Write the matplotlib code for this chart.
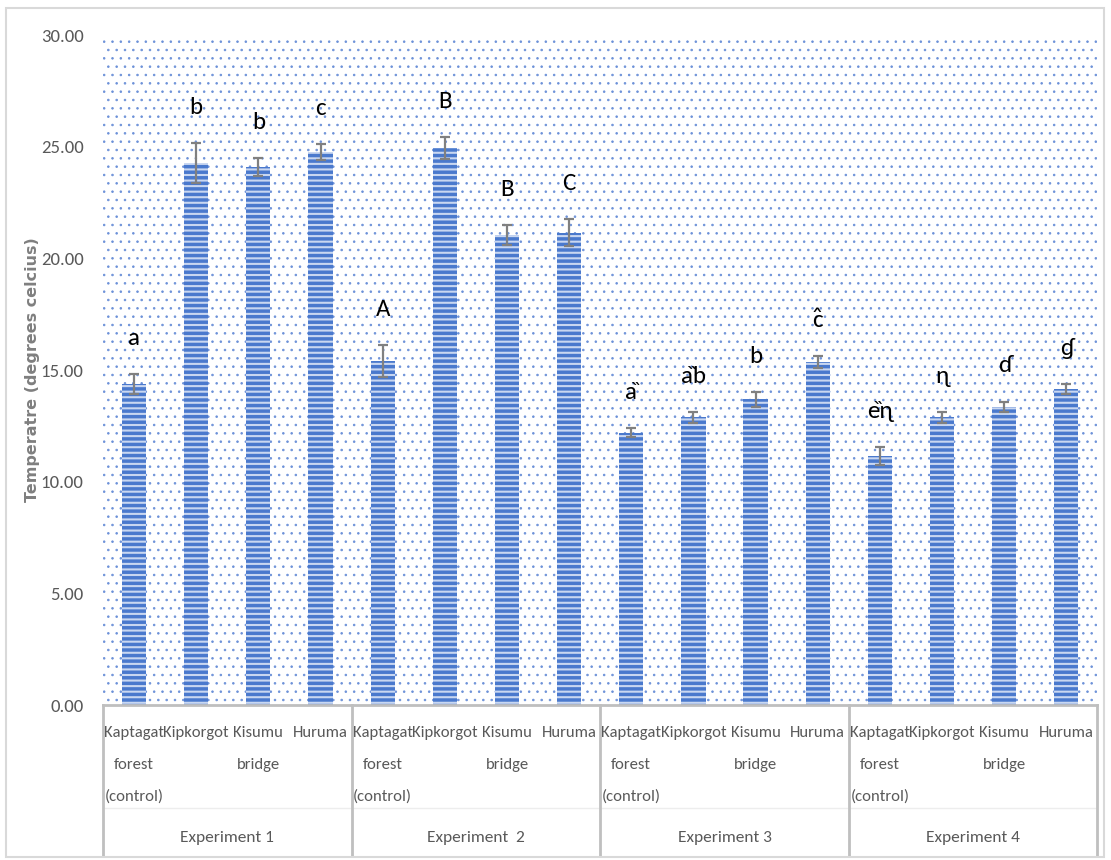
import numpy as np
import matplotlib.pyplot as plt
from matplotlib.patches import Rectangle

label_font = ['Carlito', 'DejaVu Sans']

sites = ["Kaptagat\nforest\n(control)", "Kipkorgot", "Kisumu\nbridge", "Huruma"]
experiments = ["Experiment 1", "Experiment  2", "Experiment 3", "Experiment 4"]

# mean temperature per site, one list per experiment
exp1 = [14.37, 24.27, 24.09, 24.76]
exp2 = [15.40, 24.94, 21.05, 21.14]
exp3 = [12.19, 12.88, 13.69, 15.36]
exp4 = [11.15, 12.88, 13.36, 14.15]

err1 = [0.45, 0.90, 0.40, 0.35]
err2 = [0.70, 0.50, 0.45, 0.60]
err3 = [0.21, 0.25, 0.33, 0.26]
err4 = [0.39, 0.24, 0.22, 0.22]

letters1 = ["a", "b", "b", "c"]
letters2 = ["A", "B", "B", "C"]
letters3 = ["a\u030f", "a\u030fb", "b", "c\u0302"]
letters4 = ["e\u030f\u0273", "\u0273", "\u0257", "\u0260"]

values = np.array(exp1 + exp2 + exp3 + exp4)
errors = np.array(err1 + err2 + err3 + err4)
letters = letters1 + letters2 + letters3 + letters4
x = np.arange(len(values))

fig = plt.figure(figsize=(11.11, 8.6), dpi=100)
ax = fig.add_axes([0.0927, 0.1802, 0.8951, 0.7791])

# dotted plot-area background
with plt.rc_context({'hatch.linewidth': 0.6}):
    bg = Rectangle((0, 0), 1, 1, transform=ax.transAxes, fill=False,
                   hatch='..', edgecolor='#6C91D8', linewidth=0, zorder=0)
    ax.add_patch(bg)

with plt.rc_context({'hatch.linewidth': 1.5}):
    bars = ax.bar(x, values, width=0.39, color='#4A79CD', edgecolor='#C9D7F1',
                  hatch='---', linewidth=0, zorder=2)
if hasattr(bg, 'set_hatch_linewidth'):
    bg.set_hatch_linewidth(0.6)
    for b in bars:
        b.set_hatch_linewidth(1.5)

ax.errorbar(x, values, yerr=errors, fmt='none', ecolor='#808080',
            elinewidth=1.6, capsize=3.5, capthick=1.6, zorder=3)

for xi, v, e, lab in zip(x, values, errors, letters):
    ax.text(xi, v + e + 1.6, lab, ha='center', va='center', fontsize=18,
            family=label_font, color='black', zorder=4)

ax.set_xlim(-0.5, len(values) - 0.5)
ax.set_ylim(0, 30)
ticks = np.arange(0, 30.1, 5)
ax.set_yticks(ticks)
ax.set_yticklabels(["%.2f" % t for t in ticks], family=label_font,
                   fontsize=13.5, color='#595959')
ax.tick_params(axis='y', length=0, pad=14)
ax.set_xticks([])
for s in ax.spines.values():
    s.set_visible(False)

ax.set_ylabel("Temperatre (degrees celcius)", fontsize=11.5, fontweight='bold',
              color='#7F7F7F')
ax.yaxis.set_label_coords(-0.0634, 0.5)

# category axis: baseline, group separators and two label rows
tr = ax.get_xaxis_transform()
px = 1 / 670.0
ax.plot([-0.5, len(values) - 0.5], [0, 0], transform=tr, color='#BFBFBF',
        lw=2, clip_on=False, zorder=5)
ax.plot([-0.5, len(values) - 0.5], [-103 * px, -103 * px], transform=tr,
        color='#EDEDED', lw=1, clip_on=False)
for b in np.arange(-0.5, len(values), 4):
    ax.plot([b, b], [0, -150 * px], transform=tr, color='#BFBFBF', lw=2,
            clip_on=False)

for g, exp in enumerate(experiments):
    for i, site in enumerate(sites):
        for k, line in enumerate(site.split("\n")):
            ax.text(g * 4 + i, -(28 + 32 * k) * px, line, transform=tr,
                    ha='center', va='center', fontsize=12, family=label_font,
                    color='#595959')
    ax.text(g * 4 + 1.5, -133 * px, exp, transform=tr, ha='center',
            va='center', fontsize=12.5, family=label_font, color='#595959')

fig.patches.append(Rectangle((6 / 1111, 3 / 860), 1098 / 1111, 849 / 860,
                             transform=fig.transFigure, fill=False,
                             edgecolor='#D9D9D9', linewidth=1.5))

fig.savefig("out.png", dpi=100)
